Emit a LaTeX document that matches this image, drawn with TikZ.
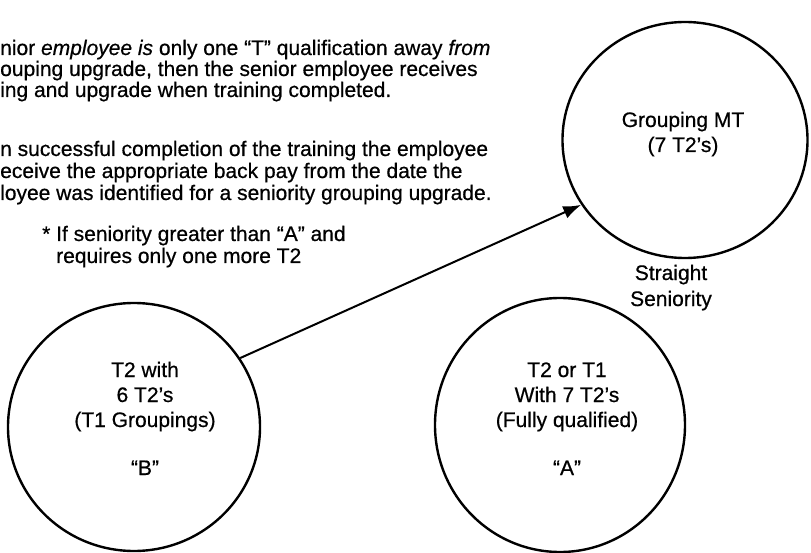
\documentclass[tikz,border=0pt]{standalone}
\usepackage{fontspec}
\setmainfont{Liberation Sans}[FakeBold=0.6, ItalicFeatures={FakeBold=0.6}]
\usetikzlibrary{shapes.geometric,arrows.meta}
\begin{document}
\begin{tikzpicture}[x=1pt,y=-1pt,
  txt/.style={font=\fontsize{21}{25}\selectfont, inner sep=0pt, anchor=base west},
  ctxt/.style={font=\fontsize{21}{25}\selectfont, inner sep=0pt, anchor=base},
  ring/.style={draw, ellipse, line width=2.4pt, inner sep=0pt},
  link/.style={line width=2pt, -{Latex[length=18pt,width=13pt]}}]
\useasboundingbox (0,0) rectangle (811,553);
% paragraph 1
\node[txt] (p1a) at (0,55) {nior \textit{employee is} only one “T” qualification away \textit{from}};
\node[txt] (p1b) at (0,76) {ouping upgrade, then the senior employee receives};
\node[txt] (p1c) at (0,97) {ing and upgrade when training completed.};
% paragraph 2
\node[txt] (p2a) at (0,156) {n successful completion of the training the employee};
\node[txt] (p2b) at (0,178) {eceive the appropriate back pay from the date the};
\node[txt] (p2c) at (0,200) {loyee was identified for a seniority grouping upgrade.};
% footnote
\node[txt] (f1) at (42,241) {* If seniority greater than “A” and};
\node[txt] (f2) at (56,263) {requires only one more T2};
% circles
\node[ring, minimum width=245pt, minimum height=236pt] (MT) at (685,140) {};
\node[ring, minimum width=252pt, minimum height=248pt] (B) at (134,427) {};
\node[ring, minimum width=250pt, minimum height=254pt] (A) at (560,425) {};
% circle texts
\node[ctxt] (mt1) at (683,127) {Grouping MT};
\node[ctxt] (mt2) at (683,152) {(7 T2’s)};
\node[ctxt] (s1) at (671,280) {Straight};
\node[ctxt] (s2) at (671,306) {Seniority};
\node[ctxt] (b1) at (145,377) {T2 with};
\node[ctxt] (b2) at (145,402) {6 T2’s};
\node[ctxt] (b3) at (145,427) {(T1 Groupings)};
\node[ctxt] (b4) at (145,475) {“B”};
\node[ctxt] (a1) at (567,377) {T2 or T1};
\node[ctxt] (a2) at (567,402) {With 7 T2’s};
\node[ctxt] (a3) at (567,427) {(Fully qualified)};
\node[ctxt] (a4) at (567,475) {“A”};
% arrow
\draw[link] (B.33) -- (MT.212);
\end{tikzpicture}
\end{document}
